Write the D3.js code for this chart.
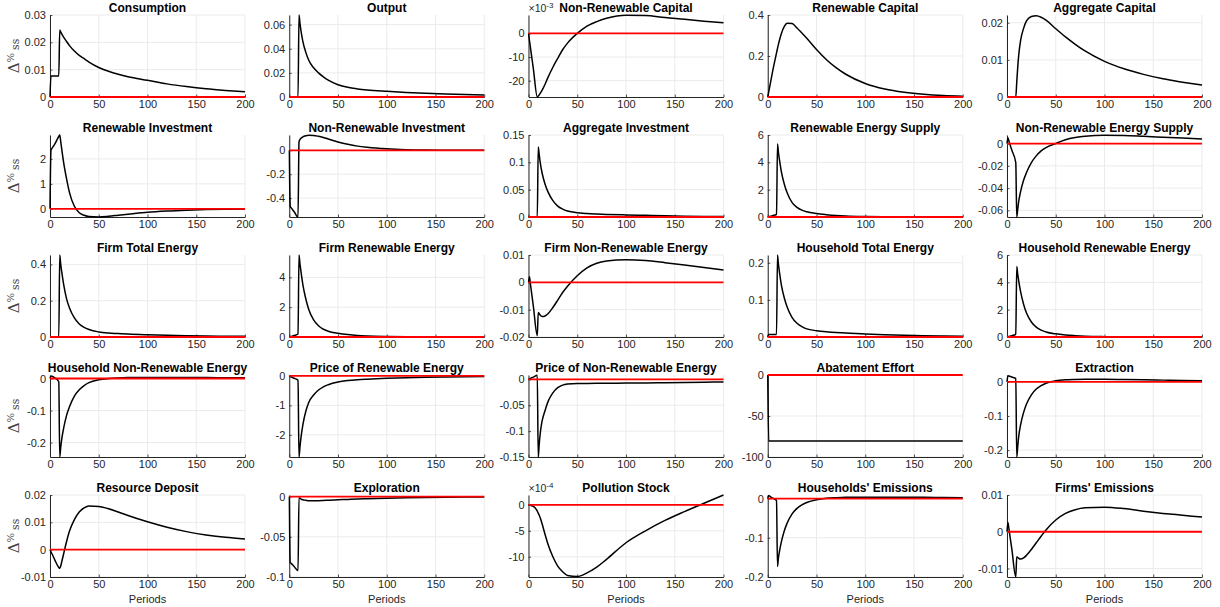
<!DOCTYPE html>
<html><head><meta charset="utf-8">
<script src="https://cdn.jsdelivr.net/npm/d3@7"></script>
<style>body{margin:0;background:#fff}svg{display:block}</style>
</head><body><svg id="c" width="1220" height="607"></svg>
<script>
// ---------- data ----------
const periods = [0,1,2,5,9,10,11,12,14,17,20,25,30,35,40,50,60,70,80,100,120,140,160,180,200];
const xTicks = [0,50,100,150,200];

const titles = ["Consumption","Output","Non-Renewable Capital","Renewable Capital","Aggregate Capital",
 "Renewable Investment","Non-Renewable Investment","Aggregate Investment","Renewable Energy Supply","Non-Renewable Energy Supply",
 "Firm Total Energy","Firm Renewable Energy","Firm Non-Renewable Energy","Household Total Energy","Household Renewable Energy",
 "Household Non-Renewable Energy","Price of Renewable Energy","Price of Non-Renewable Energy","Abatement Effort","Extraction",
 "Resource Deposit","Exploration","Pollution Stock","Households' Emissions","Firms' Emissions"];

const consumption = [0,0.0077,0.0077,0.0077,0.0077,0.0245,0.0238,0.0231,0.0219,0.0203,0.0188,0.0168,0.0152,0.014,0.0128,0.0108,0.0094,0.0083,0.0074,0.0061,0.0048,0.0038,0.003,0.0024,0.0019];
const output = [0,0,0,0,0,0.068,0.061,0.055,0.046,0.037,0.0305,0.0242,0.0200,0.0167,0.0140,0.0102,0.0080,0.0067,0.0058,0.0047,0.0038,0.0031,0.0025,0.002,0.0017];
const nrCapital = [0,-0.003,-0.006,-0.015,-0.0269,-0.0265,-0.026,-0.0254,-0.024,-0.0215,-0.0186,-0.0143,-0.0105,-0.0069,-0.0041,0,0.0031,0.005,0.0064,0.0077,0.0076,0.0067,0.006,0.0052,0.0045];
const rCapital = [0,0.025,0.05,0.125,0.215,0.237,0.258,0.277,0.31,0.345,0.36,0.358,0.337,0.312,0.287,0.232,0.183,0.143,0.111,0.066,0.039,0.023,0.013,0.007,0.004];
const aggCapital = [0,0,0,0,0,0.004,0.008,0.0112,0.0153,0.0185,0.0205,0.0217,0.0219,0.0215,0.0207,0.0184,0.0162,0.0142,0.0124,0.0096,0.0076,0.0061,0.0049,0.004,0.0032];
const rInvest = [0,2.35,2.42,2.6,2.9,2.96,2.7,2.4,1.85,1.2,0.65,0.1,-0.16,-0.26,-0.31,-0.325,-0.3,-0.26,-0.22,-0.14,-0.09,-0.055,-0.03,-0.015,-0.005];
const nrInvest = [0,-0.47,-0.481,-0.514,-0.558,0.07,0.09,0.1,0.113,0.122,0.125,0.124,0.117,0.107,0.095,0.07,0.05,0.035,0.025,0.012,0.005,0.002,0.001,0.0003,0];
const aggInvest = [0,0,0,0,0,0.128,0.114,0.1,0.08,0.06,0.046,0.03,0.02,0.0145,0.011,0.0078,0.0064,0.0055,0.0048,0.0038,0.003,0.0022,0.0016,0.0011,0.0008];
const rSupply = [0,0.02,0.04,0.1,0.2,5.35,4.7,4.2,3.3,2.4,1.75,1.05,0.7,0.5,0.38,0.25,0.17,0.11,0.07,0.03,0.013,0.006,0.003,0.001,0];
const nrSupply = [0,0.005,0.0022,-0.006,-0.017,-0.066,-0.059,-0.052,-0.043,-0.033,-0.026,-0.017,-0.011,-0.0065,-0.0035,0.0002,0.0035,0.0055,0.0067,0.0075,0.0073,0.0066,0.0058,0.005,0.0042];
const firmTotal = [0,0,0,0,0,0.452,0.4,0.36,0.29,0.21,0.16,0.105,0.072,0.053,0.041,0.028,0.022,0.019,0.016,0.012,0.009,0.007,0.0055,0.0045,0.0035];
const firmRenew = [0,0.02,0.04,0.1,0.2,5.5,4.9,4.4,3.5,2.55,1.85,1.15,0.75,0.52,0.39,0.25,0.16,0.1,0.065,0.03,0.013,0.006,0.003,0.001,0];
const firmNonRenew = [0,0.002,-0.0007,-0.0088,-0.0195,-0.011,-0.0115,-0.012,-0.0125,-0.0123,-0.0115,-0.0092,-0.0065,-0.0037,-0.0014,0.0024,0.0053,0.007,0.0078,0.0083,0.008,0.0072,0.0063,0.0054,0.0045];
const hhTotal = [0,0.007,0.007,0.007,0.007,0.221,0.195,0.175,0.14,0.105,0.08,0.052,0.037,0.028,0.022,0.017,0.014,0.012,0.011,0.008,0.006,0.0045,0.0035,0.0028,0.0022];
const hhRenew = [0,0.02,0.04,0.1,0.2,5.15,4.6,4.1,3.3,2.4,1.75,1.1,0.72,0.5,0.37,0.23,0.15,0.1,0.06,0.025,0.012,0.005,0.002,0.001,0];
const hhNonRenew = [0,0.008,0.007,0.002,-0.01,-0.245,-0.215,-0.19,-0.155,-0.115,-0.088,-0.055,-0.035,-0.022,-0.013,-0.004,0,0.002,0.003,0.0035,0.0035,0.003,0.003,0.0025,0.0022];
const priceRenew = [0,-0.02,-0.04,-0.08,-0.15,-2.75,-2.4,-2.1,-1.65,-1.2,-0.9,-0.65,-0.48,-0.37,-0.3,-0.21,-0.16,-0.13,-0.11,-0.08,-0.06,-0.045,-0.035,-0.027,-0.02];
const priceNonRenew = [0,0.001,0.002,0.0045,0.008,-0.15,-0.125,-0.105,-0.08,-0.06,-0.043,-0.026,-0.016,-0.011,-0.009,-0.0078,-0.0077,-0.0076,-0.0075,-0.0072,-0.007,-0.0065,-0.006,-0.0055,-0.005];
const abatement = [0,-80.5,-80.5,-80.5,-80.5,-80.5,-80.5,-80.5,-80.5,-80.5,-80.5,-80.5,-80.5,-80.5,-80.5,-80.5,-80.5,-80.5,-80.5,-80.5,-80.5,-80.5,-80.5,-80.5,-80.5];
const extraction = [0,0.018,0.017,0.014,0.01,-0.22,-0.19,-0.16,-0.125,-0.09,-0.065,-0.038,-0.021,-0.011,-0.004,0.003,0.006,0.007,0.0075,0.0075,0.0068,0.006,0.005,0.004,0.0035];
const deposit = [0,-0.0008,-0.0015,-0.0038,-0.0065,-0.0068,-0.006,-0.0045,-0.0015,0.003,0.0068,0.011,0.0138,0.0153,0.016,0.0158,0.015,0.0138,0.0125,0.0102,0.0082,0.0066,0.0054,0.0045,0.0039];
const exploration = [0,-0.082,-0.083,-0.087,-0.092,-0.001,-0.002,-0.003,-0.004,-0.0045,-0.005,-0.005,-0.005,-0.0048,-0.0045,-0.004,-0.0035,-0.003,-0.0027,-0.002,-0.0015,-0.0011,-0.0008,-0.0006,-0.0005];
const pollution = [0,0,-0.00001,-0.00003,-0.00012,-0.00016,-0.0002,-0.00025,-0.00037,-0.00057,-0.00076,-0.001,-0.00118,-0.00129,-0.00136,-0.00138,-0.00131,-0.0012,-0.00105,-0.00073,-0.0005,-0.0003,-0.00013,0.00003,0.00019];
const hhEmissions = [0,0.008,0.006,0.001,-0.005,-0.173,-0.15,-0.135,-0.11,-0.082,-0.062,-0.039,-0.025,-0.016,-0.01,-0.003,0.0005,0.002,0.003,0.0035,0.0035,0.003,0.003,0.0025,0.0022];
const firmEmissions = [0,0.0025,0.0007,-0.0048,-0.0123,-0.0068,-0.007,-0.0072,-0.0074,-0.0071,-0.0064,-0.0048,-0.003,-0.0012,0.0005,0.0032,0.005,0.006,0.0065,0.0067,0.0063,0.0056,0.005,0.0045,0.004];

const series = [consumption,output,nrCapital,rCapital,aggCapital,rInvest,nrInvest,aggInvest,rSupply,nrSupply,
 firmTotal,firmRenew,firmNonRenew,hhTotal,hhRenew,hhNonRenew,priceRenew,priceNonRenew,abatement,extraction,
 deposit,exploration,pollution,hhEmissions,firmEmissions];

const yDomains = [[0,0.03],[0,0.068],[-0.0269,0.0078],[0,0.4],[0,0.0221],
 [-0.33,2.96],[-0.558,0.128],[0,0.15],[0,6],[-0.066,0.0078],
 [0,0.452],[0,5.5],[-0.02,0.01],[0,0.221],[0,6],
 [-0.245,0.011],[-2.75,0.03],[-0.15,0.0085],[-100,0],[-0.22,0.02],
 [-0.01,0.02],[-0.1,0.002],[-0.00139,0.00019],[-0.2,0.009],[-0.0123,0.01]];

const yTicks = [[0,0.01,0.02,0.03],[0,0.02,0.04,0.06],[-0.02,-0.01,0],[0,0.2,0.4],[0,0.01,0.02],
 [0,1,2],[-0.4,-0.2,0],[0,0.05,0.1,0.15],[0,2,4,6],[-0.06,-0.04,-0.02,0],
 [0,0.2,0.4],[0,2,4],[-0.02,-0.01,0,0.01],[0,0.1,0.2],[0,2,4,6],
 [-0.2,-0.1,0],[-2,-1,0],[-0.15,-0.1,-0.05,0],[-100,-50,0],[-0.2,-0.1,0],
 [-0.01,0,0.01,0.02],[-0.1,-0.05,0],[-0.001,-0.0005,0],[-0.2,-0.1,0],[-0.01,0,0.01]];

const exponents = {2:-3, 22:-4};

// ---------- drawing ----------
const svg = d3.select("#c");
const W = 195, H = 82;
const FONT = "'Liberation Sans', Arial, Helvetica, sans-serif";
const AX = "#262626";

series.forEach((vals, i) => {
  const col = i % 5, row = Math.floor(i / 5);
  const x0 = 50 + col * 239.25, y0 = 15 + row * 120;
  const g = svg.append("g").attr("transform", `translate(${x0},${y0})`);
  const x = d3.scaleLinear().domain([0, 200]).range([0, W]);
  const y = d3.scaleLinear().domain(yDomains[i]).range([H, 0]);
  const ex = exponents[i];
  const fmt = v => {
    let s = ex !== undefined ? +(v / Math.pow(10, ex)).toFixed(6) : +v.toFixed(6);
    return String(s);
  };

  // grid
  g.append("g").selectAll("line").data(xTicks).join("line")
    .attr("x1", d => x(d)).attr("x2", d => x(d)).attr("y1", 0).attr("y2", H)
    .attr("stroke", "#ebebeb").attr("stroke-width", 1);
  g.append("g").selectAll("line").data(yTicks[i]).join("line")
    .attr("x1", 0).attr("x2", W).attr("y1", d => y(d)).attr("y2", d => y(d))
    .attr("stroke", "#ebebeb").attr("stroke-width", 1);

  // axes
  const ax = g.append("g").attr("transform", `translate(0,${H})`)
    .call(d3.axisBottom(x).tickValues(xTicks).tickSize(-2.5).tickSizeOuter(0).tickPadding(3).tickFormat(d => String(d)));
  const ay = g.append("g")
    .call(d3.axisLeft(y).tickValues(yTicks[i]).tickSize(-2.5).tickSizeOuter(0).tickPadding(4).tickFormat(fmt));
  [ax, ay].forEach(a => {
    a.select(".domain").attr("stroke", AX).attr("stroke-width", 1);
    a.selectAll(".tick line").attr("stroke", AX).attr("stroke-width", 0.8);
    a.selectAll(".tick text").attr("fill", AX).attr("font-size", 11).attr("font-family", FONT);
  });
  ax.selectAll(".tick text").attr("dy", "0.75em");

  // clip
  const cid = "clip" + i;
  g.append("clipPath").attr("id", cid).append("rect")
    .attr("x", -1).attr("y", -1).attr("width", W + 2).attr("height", H + 2);

  const line = d3.line().x((d, k) => x(periods[k])).y(d => y(d)).curve(d3.curveMonotoneX);
  g.append("path").datum(vals).attr("d", line).attr("clip-path", `url(#${cid})`)
    .attr("fill", "none").attr("stroke", "#000").attr("stroke-width", 1.5).attr("stroke-linejoin", "round");

  // zero reference
  g.append("line").attr("clip-path", `url(#${cid})`)
    .attr("x1", x(0)).attr("x2", x(200)).attr("y1", y(0)).attr("y2", y(0))
    .attr("stroke", "#ff0000").attr("stroke-width", 1.8);

  // title
  g.append("text").attr("x", W / 2).attr("y", -3.5).attr("text-anchor", "middle")
    .attr("font-family", FONT).attr("font-weight", "bold").attr("font-size", 12).attr("fill", "#000")
    .text(titles[i]);

  // exponent
  if (ex !== undefined) {
    const t = g.append("text").attr("x", 0).attr("y", -3).attr("font-family", FONT)
      .attr("font-size", 10.5).attr("fill", AX);
    t.append("tspan").text("×10");
    t.append("tspan").attr("font-size", 8).attr("dy", -4.5).text("-" + Math.abs(ex));
  }

  // y label
  if (col === 0) {
    const t = svg.append("text")
      .attr("transform", `translate(${x0 - 31},${y0 + H / 2}) rotate(-90)`)
      .attr("text-anchor", "middle").attr("font-family", "'DejaVu Serif','Liberation Serif',serif")
      .attr("fill", "#404040");
    t.append("tspan").attr("font-size", 15).text("Δ");
    t.append("tspan").attr("font-size", 10).attr("dy", -5).text("%");
    t.append("tspan").attr("font-size", 11).attr("dy", 5).attr("dx", 3).text("ss");
  }
  // x label
  if (row === 4) {
    svg.append("text").attr("x", x0 + W / 2).attr("y", y0 + H + 26).attr("text-anchor", "middle")
      .attr("font-family", FONT).attr("font-size", 11).attr("fill", AX).text("Periods");
  }
});
</script>
</body></html>
